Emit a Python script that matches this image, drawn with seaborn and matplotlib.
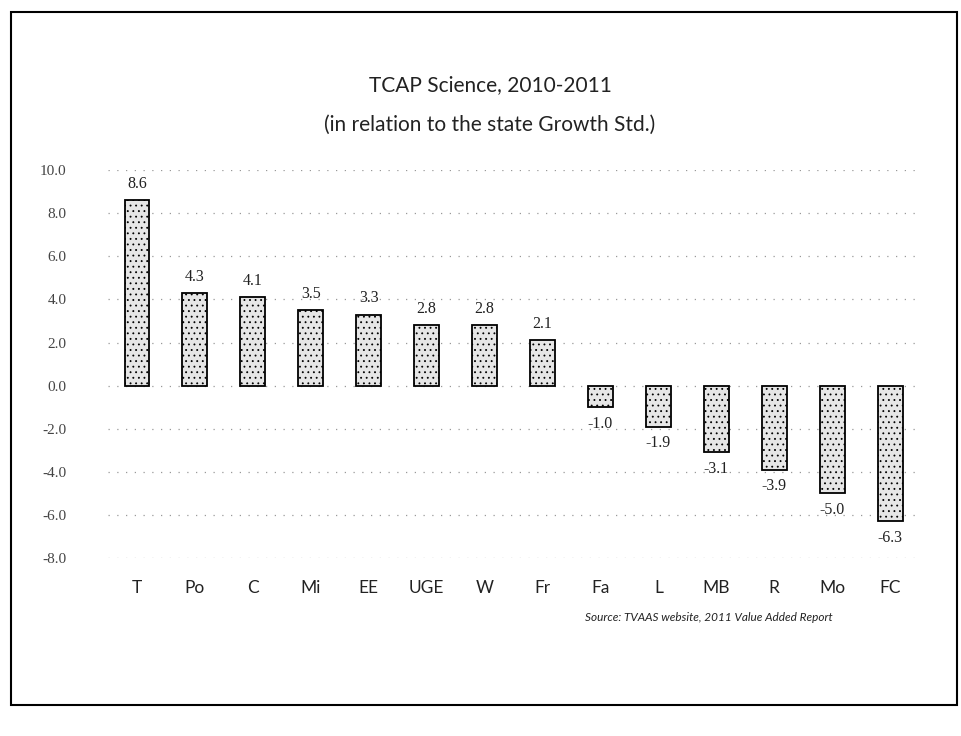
import matplotlib
matplotlib.use("Agg")
import matplotlib.pyplot as plt
import seaborn as sns
import pandas as pd
from matplotlib.patches import Rectangle

schools = ["T", "Po", "C", "Mi", "EE", "UGE", "W", "Fr", "Fa", "L", "MB", "R", "Mo", "FC"]
growth = [8.6, 4.3, 4.1, 3.5, 3.3, 2.8, 2.8, 2.1, -1.0, -1.9, -3.1, -3.9, -5.0, -6.3]
yticks = [10.0, 8.0, 6.0, 4.0, 2.0, 0.0, -2.0, -4.0, -6.0, -8.0]

df = pd.DataFrame({"school": schools, "growth": growth})

sns.set_style("white")
plt.rcParams["hatch.color"] = "#a8a8a8"
plt.rcParams["hatch.linewidth"] = 0.6
fig = plt.figure(figsize=(9.61, 7.36), dpi=100)
ax = fig.add_axes([0.1124, 0.2418, 0.844, 0.527])

sns.barplot(data=df, x="school", y="growth", ax=ax, color="#e6e6e6",
            edgecolor="black", linewidth=1.3, width=0.43, saturation=1)
for p in ax.patches:
    p.set_hatch("...")
    p.set_zorder(3)

ax.set_ylim(-8, 10)
ax.set_xlim(-0.5, len(schools) - 0.5)
ax.set_yticks(yticks)
ax.set_yticklabels([f"{v:.1f}" for v in yticks], family="Liberation Serif",
                   fontsize=11, color="#444444")
ax.tick_params(axis="y", length=0, pad=30)
ax.tick_params(axis="x", length=0, pad=16, labelsize=12.5, colors="#222222")
for lab in ax.get_xticklabels():
    lab.set_family("Lato")
ax.set_xlabel("")
ax.set_ylabel("")
for s in ax.spines.values():
    s.set_visible(False)
ax.yaxis.grid(True, linestyle=(0, (1, 6)), color="#999999", linewidth=0.9, zorder=0)
ax.set_axisbelow(True)

for c in ax.containers:
    ax.bar_label(c, fmt="%.1f", padding=6, family="Liberation Serif",
                 fontsize=11.5, color="#222222")

fig.text(0.51, 0.885, "TCAP Science, 2010-2011", ha="center", va="center",
         fontsize=15, family="Lato", color="#222222")
fig.text(0.51, 0.83, "(in relation to the state Growth Std.)", ha="center",
         va="center", fontsize=15, family="Lato", color="#222222")
fig.text(0.738, 0.161, "Source: TVAAS website, 2011 Value Added Report",
         ha="center", va="center", fontsize=8.5, style="italic",
         family="Lato", color="#222222")

fig.patches.append(Rectangle((0.011, 0.042), 0.985, 0.942, transform=fig.transFigure,
                             fill=False, edgecolor="black", linewidth=1.5))

fig.savefig("out.png", dpi=100)
